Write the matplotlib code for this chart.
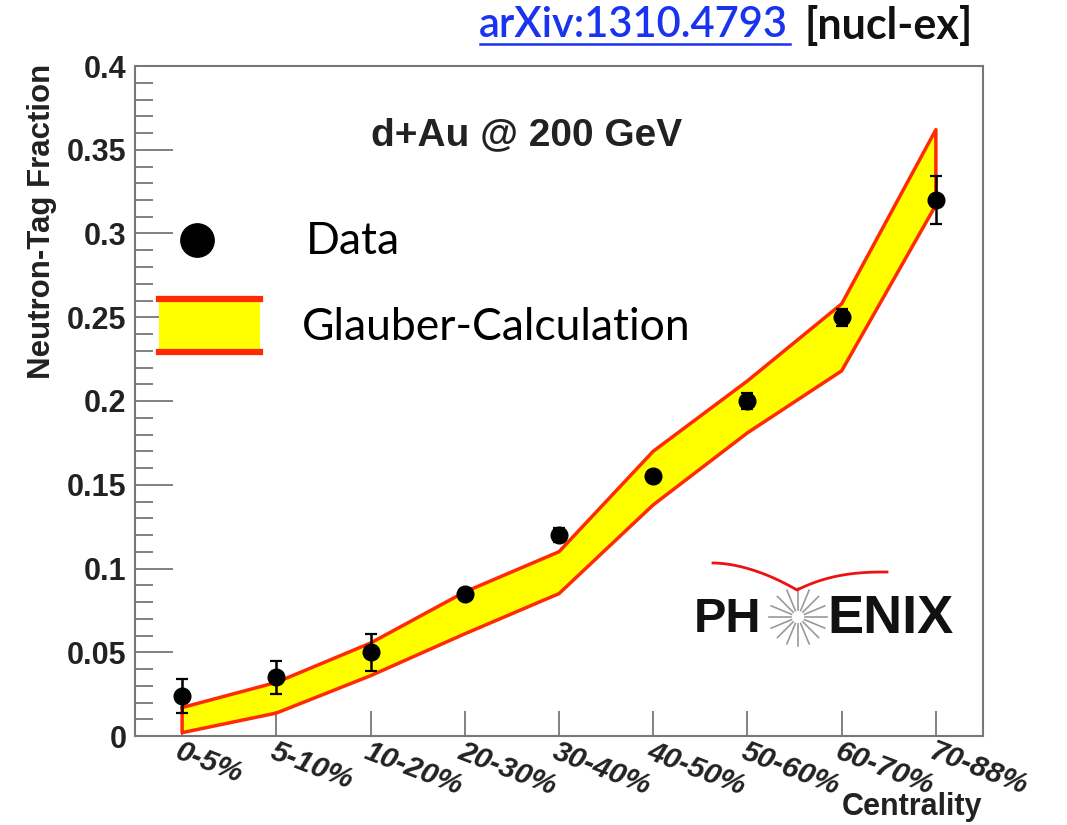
import numpy as np
import matplotlib
matplotlib.use("Agg")
import matplotlib.pyplot as plt
from matplotlib.patches import Rectangle
from matplotlib.lines import Line2D
from matplotlib.ticker import MultipleLocator

# ── data ──────────────────────────────────────────────────────────────────────
centrality = ["0-5%", "5-10%", "10-20%", "20-30%", "30-40%",
              "40-50%", "50-60%", "60-70%", "70-88%"]
frac       = [0.024, 0.035, 0.050, 0.085, 0.120, 0.155, 0.200, 0.250, 0.320]
frac_err   = [0.010, 0.010, 0.011, 0.003, 0.004, 0.003, 0.005, 0.005, 0.0145]
glauber_hi = [0.017, 0.032, 0.0555, 0.086, 0.110, 0.170, 0.212, 0.258, 0.362]
glauber_lo = [0.002, 0.0137, 0.036, 0.061, 0.085, 0.138, 0.181, 0.218, 0.317]

W, H = 1067, 825
fig = plt.figure(figsize=(W / 100, H / 100), dpi=100)

def fx(px):
    return px / W

def fy(py):
    return 1 - py / H

ax = fig.add_axes([fx(135), fy(736), fx(983) - fx(135), fy(66) - fy(736)])

x = np.arange(len(centrality))
ax.fill_between(x, glauber_lo, glauber_hi, facecolor="#ffff00",
                edgecolor="none", zorder=1)
ax.plot(np.r_[x, x[::-1], x[0]],
        np.r_[glauber_hi, glauber_lo[::-1], glauber_hi[0]],
        color="#ff2a00", lw=2.5, zorder=2)
ax.errorbar(x, frac, yerr=frac_err, fmt="o", color="black", ms=12,
            elinewidth=1.8, capsize=4, capthick=1.6, zorder=3)

ax.set_xlim(-0.5, 8.5)
ax.set_ylim(0, 0.4)
ax.yaxis.set_minor_locator(MultipleLocator(0.01))
ax.set_yticks(np.arange(0, 0.401, 0.05))
ax.set_yticklabels(["0", "0.05", "0.1", "0.15", "0.2", "0.25", "0.3", "0.35", "0.4"],
                   fontsize=22, fontweight="bold", family="Liberation Sans",
                   color="#222222")
ax.set_xticks(x)
ax.set_xticklabels(centrality, rotation=-21, ha="left", va="top",
                   rotation_mode="anchor", fontsize=21.5, fontstyle="italic",
                   fontweight="bold", family="Liberation Sans", color="#222222")
ax.tick_params(axis="y", which="major", direction="in", length=27, width=1.3,
               color="#777777", pad=6)
ax.tick_params(axis="y", which="minor", direction="in", length=13, width=1.3,
               color="#777777")
ax.tick_params(axis="x", which="major", direction="in", length=18, width=1.3,
               color="#777777", pad=1)
for s in ax.spines.values():
    s.set_color("#777777")
    s.set_linewidth(1.5)

# axis titles
fig.text(fx(42), fy(64), "Neutron-Tag Fraction", rotation=90, ha="center",
         va="top", fontsize=22.5, fontweight="bold", family="Liberation Sans",
         color="#222222")
fig.text(fx(982), fy(807), "Centrality", ha="right", va="center", fontsize=22,
         fontweight="bold", family="Liberation Sans", color="#222222")

# plot title
fig.text(fx(527), fy(135), "d+Au @ 200 GeV", ha="center", va="center",
         fontsize=28, fontweight="bold", family="Liberation Sans",
         color="#222222")

# legend
fig.add_artist(Line2D([fx(197)], [fy(240)], marker="o", ms=24, color="black",
                      transform=fig.transFigure))
fig.text(fx(306), fy(241), "Data", ha="left", va="center", fontsize=32,
         family="Lato", color="black")
fig.add_artist(Rectangle((fx(159), fy(354)), fx(260) - fx(159),
                         fy(297) - fy(354), facecolor="#ffff00",
                         edgecolor="none", transform=fig.transFigure))
for py in (299, 352):
    fig.add_artist(Line2D([fx(159), fx(260)], [fy(py), fy(py)], color="#ff2a00",
                          lw=4.5, transform=fig.transFigure))
fig.text(fx(302), fy(327), "Glauber-Calculation", ha="left", va="center",
         fontsize=32, family="Lato", color="black")

# arXiv reference
fig.text(fx(479), fy(25), "arXiv:1310.4793", ha="left", va="center",
         fontsize=30, fontweight="semibold", family="Lato", color="#1a33ee")
fig.add_artist(Line2D([fx(480), fx(790)], [fy(44), fy(44)], color="#1a33ee",
                      lw=1.8, transform=fig.transFigure))
fig.text(fx(804), fy(25), "[nucl-ex]", ha="left", va="center", fontsize=31,
         fontweight="bold", family="Lato", color="#111111")

# PHENIX logo
fig.text(fx(694), fy(619), "PH", ha="left", va="center", fontsize=35,
         fontweight="bold", family="Liberation Sans", color="#111111")
fig.text(fx(827), fy(619), "ENIX", ha="left", va="center", fontsize=39,
         fontweight="bold", family="Liberation Sans", color="#111111")
cx, cy = 798, 617
for a in np.linspace(0, 2 * np.pi, 16, endpoint=False):
    fig.add_artist(Line2D([fx(cx + 7 * np.cos(a)), fx(cx + 29 * np.cos(a))],
                          [fy(cy + 7 * np.sin(a)), fy(cy + 29 * np.sin(a))],
                          color="#9a9a9a", lw=1.2, transform=fig.transFigure))
t = np.linspace(0, 1, 40)
arc_lx = 713 + (797 - 713) * t
arc_ly = 563 + (590 - 563) * t ** 1.8
arc_rx = 797 + (887 - 797) * t
arc_ry = 590 - (590 - 572) * (1 - (1 - t) ** 2.5)
fig.add_artist(Line2D(fx(np.r_[arc_lx, arc_rx]), fy(np.r_[arc_ly, arc_ry]),
                      color="#ee1111", lw=2, transform=fig.transFigure))

fig.savefig("out.png", dpi=100)
